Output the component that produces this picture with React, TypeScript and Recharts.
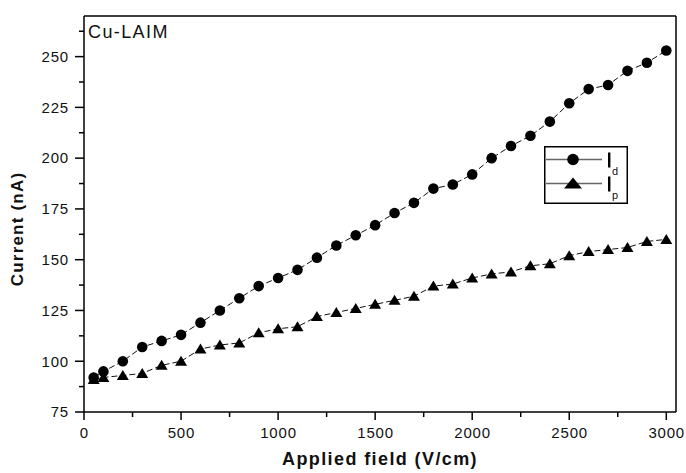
import { LineChart, Line, XAxis, YAxis, ReferenceLine, Legend } from 'recharts';

const field = [50, 100, 200, 300, 400, 500, 600, 700, 800, 900, 1000, 1100, 1200, 1300, 1400, 1500,
  1600, 1700, 1800, 1900, 2000, 2100, 2200, 2300, 2400, 2500, 2600, 2700, 2800, 2900, 3000];
const currentD = [92, 95, 100, 107, 110, 113, 119, 125, 131, 137, 141, 145, 151, 157, 162, 167,
  173, 178, 185, 187, 192, 200, 206, 211, 218, 227, 234, 236, 243, 247, 253];
const currentP = [91, 92, 93, 94, 98, 100, 106, 108, 109, 114, 116, 117, 122, 124, 126, 128,
  130, 132, 137, 138, 141, 143, 144, 147, 148, 152, 154, 155, 156, 159, 160];

const xTicks = [0, 250, 500, 750, 1000, 1250, 1500, 1750, 2000, 2250, 2500, 2750, 3000];
const yTicks = [75, 87.5, 100, 112.5, 125, 137.5, 150, 162.5, 175, 187.5, 200, 212.5, 225, 237.5, 250, 262.5];

const data = field.map((f, i) => ({ field: f, Id: currentD[i], Ip: currentP[i] }));

const FONT = "Arial, 'Liberation Sans', sans-serif";

const XTick = (props: any) => {
  const { x, y, payload } = props;
  const major = payload.value % 500 === 0;
  return (
    <g>
      <line x1={x} x2={x} y1={y} y2={y + (major ? 8 : 5)} stroke="#000" strokeWidth={1.5} />
      {major && (
        <text x={x + 0.4} y={y + 25.5} textAnchor="middle" fontSize={15} letterSpacing={0.8} fontFamily={FONT} fill="#111">
          {payload.value}
        </text>
      )}
    </g>
  );
};

const YTick = (props: any) => {
  const { x, y, payload } = props;
  const major = payload.value % 25 === 0;
  return (
    <g>
      <line x1={x} x2={x - (major ? 9 : 5)} y1={y} y2={y} stroke="#000" strokeWidth={1.5} />
      {major && (
        <text x={x - 15} y={y + 5.3} textAnchor="end" fontSize={15} letterSpacing={0.8} fontFamily={FONT} fill="#111">
          {payload.value}
        </text>
      )}
    </g>
  );
};

const Triangle = (props: any) => {
  const { cx, cy } = props;
  if (cx == null || cy == null) return null;
  return <path d={`M${cx},${cy - 5.5}L${cx + 6},${cy + 4.5}L${cx - 6},${cy + 4.5}Z`} fill="#000" />;
};

const LegendBox = (props: any) => {
  const items = props.payload || [];
  return (
    <svg width={84} height={58} style={{ display: 'block' }}>
      <rect x={0.75} y={0.75} width={82.5} height={56.5} fill="#fff" stroke="#000" strokeWidth={1.5} />
      {items.map((it: any, i: number) => {
        const cy = 13.5 + i * 24;
        return (
          <g key={it.value}>
            <line x1={2} x2={58} y1={cy} y2={cy} stroke="#666" strokeWidth={1.5} />
            {i === 0 ? (
              <circle cx={29} cy={cy} r={5.8} fill="#000" />
            ) : (
              <path d={`M29,${cy - 6}L38,${cy + 5}L20,${cy + 5}Z`} fill="#000" />
            )}
            <rect x={64} y={cy - 7} width={2.4} height={15} fill="#000" />
            <text x={68} y={cy + 15} fontSize={11} fontFamily={FONT} fill="#111">
              {String(it.value).slice(1)}
            </text>
          </g>
        );
      })}
    </svg>
  );
};

export default function App() {
  return (
    <div style={{ position: 'absolute', left: 0, top: 0, width: 686, height: 473, background: '#fff' }}>
      <LineChart width={686} height={473} data={data} margin={{ top: 16, right: 10, left: 0, bottom: 0 }}>
        <XAxis
          dataKey="field"
          type="number"
          domain={[0, 3050]}
          ticks={xTicks}
          interval={0}
          tickSize={0}
          tickMargin={0}
          tickLine={false}
          tick={<XTick />}
          axisLine={{ stroke: '#000', strokeWidth: 1.5 }}
          height={61}
          label={{
            content: () => (
              <text x={380} y={465} textAnchor="middle" fontSize={18} fontWeight="bold" letterSpacing={1.4} fontFamily={FONT} fill="#111">
                Applied field (V/cm)
              </text>
            ),
          }}
        />
        <YAxis
          type="number"
          domain={[75, 270]}
          ticks={yTicks}
          interval={0}
          tickSize={0}
          tickMargin={0}
          tickLine={false}
          tick={<YTick />}
          axisLine={{ stroke: '#000', strokeWidth: 1.5 }}
          width={84}
          label={{
            content: () => (
              <text transform="translate(23,229) rotate(-90)" textAnchor="middle" fontSize={17} fontWeight="bold" letterSpacing={1.2} fontFamily={FONT} fill="#111">
                Current (nA)
              </text>
            ),
          }}
        />
        <ReferenceLine y={270} stroke="#000" strokeWidth={1.5} />
        <ReferenceLine x={3050} stroke="#000" strokeWidth={1.5} />
        <Legend
          layout="horizontal"
          verticalAlign="middle"
          align="center"
          wrapperStyle={{ left: 544, top: 146, width: 84, height: 58 }}
          content={<LegendBox />}
        />
        <Line
          dataKey="Id"
          name="Id"
          stroke="#111"
          strokeWidth={1}
          strokeDasharray="6 3"
          dot={{ r: 5.3, fill: '#000', stroke: 'none' }}
          isAnimationActive={false}
        />
        <Line
          dataKey="Ip"
          name="Ip"
          stroke="#111"
          strokeWidth={1}
          strokeDasharray="6 3"
          dot={<Triangle />}
          isAnimationActive={false}
        />
      </LineChart>
      <div style={{ position: 'absolute', left: 88, top: 22, fontSize: 18, letterSpacing: 1.4, fontFamily: FONT, color: '#111', lineHeight: '20px' }}>
        Cu-LAIM
      </div>
    </div>
  );
}
